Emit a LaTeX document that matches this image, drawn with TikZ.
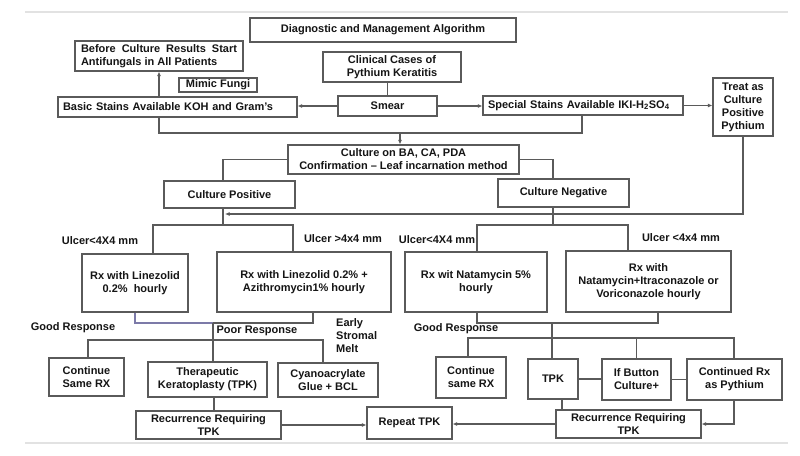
\documentclass[tikz,border=0pt]{standalone}
\usepackage{fontspec}
\setmainfont{Liberation Sans}
\usetikzlibrary{arrows.meta,calc}
\definecolor{linec}{HTML}{5A5A5A}
\definecolor{textc}{HTML}{151515}
\definecolor{rulec}{HTML}{E2E2E2}
\definecolor{bluec}{HTML}{7C7AA8}
\begin{document}
\begin{tikzpicture}[x=1pt,y=-1pt,
 box/.style={draw=linec, line width=1.2pt, text=textc, font=\bfseries\fontsize{11}{13}\selectfont, align=center, inner sep=0pt},
 wh/.style 2 args={minimum width=#1pt, minimum height=#2pt},
 lbl/.style={text=textc, font=\bfseries\fontsize{11}{13}\selectfont, align=center, inner sep=0pt},
 conn/.style={draw=linec, line width=1.2pt},
 arr/.style={conn, -{Latex[length=4.5pt,width=4pt]}},
 rule/.style={draw=rulec, line width=2pt}
]
\useasboundingbox[fill=white] (0,0) rectangle (800,455);
\coordinate (r1a) at (25,12); \coordinate (r1b) at (788,12);
\coordinate (r2a) at (25,443); \coordinate (r2b) at (788,443);
\draw[rule] (r1a) -- (r1b);
\draw[rule] (r2a) -- (r2b);

% boxes
\node[box, wh={266}{24}] (title) at (383,30) {Diagnostic and Management Algorithm};
\node[box, wh={168}{30}] (before) at (159,56) {\makebox[156pt][s]{Before Culture Results Start}\\\makebox[156pt][l]{Antifungals in All Patients}};
\node[box, wh={138}{30}] (clinical) at (392,67) {Clinical Cases of\\Pythium Keratitis};
\node[box, wh={78}{14}] (mimic) at (218,85) {Mimic Fungi};
\node[box, wh={239}{20}, text width=229pt, align=left] (basic) at (177.5,107) {Basic Stains Available KOH and Gram's};
\node[box, wh={99}{20}] (smear) at (387.5,106) {Smear};
\node[box, wh={200}{19}, text width=190pt, align=left] (special) at (583,105.5) {Special Stains Available IKI-H\textsubscript{2}SO\textsubscript{4}};
\node[box, wh={60}{58}] (treat) at (743,107) {Treat as\\Culture\\Positive\\Pythium};
\node[box, wh={231}{29}] (culture) at (403.5,159.5) {Culture on BA, CA, PDA\\Confirmation -- Leaf incarnation method};
\node[box, wh={131}{27}] (cpos) at (229.5,194.5) {Culture Positive};
\node[box, wh={131}{28}] (cneg) at (563.5,193) {Culture Negative};
\node[box, wh={106}{58}] (rxl) at (135,283) {Rx with Linezolid\\0.2\%\ \ hourly};
\node[box, wh={174}{60}] (rxla) at (304,282) {Rx with Linezolid 0.2\% +\\Azithromycin1\% hourly};
\node[box, wh={142}{60}] (rxn) at (476,282) {Rx wit Natamycin 5\%\\hourly};
\node[box, wh={165}{61}] (rxni) at (648.5,281.5) {Rx with\\Natamycin+Itraconazole or\\Voriconazole hourly};
\node[box, wh={75}{38}] (cont1) at (86.5,377) {Continue\\Same RX};
\node[box, wh={119}{35}] (tpk1) at (207.5,379.5) {Therapeutic\\Keratoplasty (TPK)};
\node[box, wh={100}{34}] (cyano) at (328,380) {Cyanoacrylate\\Glue + BCL};
\node[box, wh={145}{28}] (rec1) at (208.5,425) {Recurrence Requiring\\TPK};
\node[box, wh={85}{32}] (repeat) at (409.5,423) {Repeat TPK};
\node[box, wh={70}{41}] (cont2) at (471,377.5) {Continue\\same RX};
\node[box, wh={50}{40}] (tpk2) at (553,379) {TPK};
\node[box, wh={69}{41}] (ifb) at (636.5,379.5) {If Button\\Culture+};
\node[box, wh={95}{41}] (contrx) at (734.5,379.5) {Continued Rx\\as Pythium};
\node[box, wh={145}{28}] (rec2) at (628.5,424) {Recurrence Requiring\\TPK};

% labels
\node[lbl] (u1) at (100,241) {Ulcer<4X4 mm};
\node[lbl] (u2) at (343,239) {Ulcer >4x4 mm};
\node[lbl] (u3) at (437,240) {Ulcer<4X4 mm};
\node[lbl] (u4) at (681,238) {Ulcer <4x4 mm};
\node[lbl] (g1) at (73,328) {Good Response};
\node[lbl] (p1) at (257,331) {Poor Response};
\node[lbl, anchor=west, align=left] (esm) at (336,336) {Early\\Stromal\\Melt};
\node[lbl] (g2) at (456,329) {Good Response};

% top connectors
\draw[conn] (clinical.south -| smear.north) -- (smear.north);
\draw[arr] (smear.west) -- (smear.west -| basic.east);
\draw[arr] (smear.east) -- (smear.east -| special.west);
\draw[arr] (special.east) -- (special.east -| treat.west);
\draw[arr] (before.south |- basic.north) -- (before.south);
\coordinate (j1) at (400,133);
\draw[conn] (before.south |- basic.south) |- (j1);
\draw[conn] ($(special.south)+(-1,0)$) |- (j1);
\draw[arr] (j1) -- (j1 |- culture.north);
\draw[conn] (culture.west) -| ($(cpos.north)+(-6.5,0)$);
\draw[conn] (culture.east) -| ($(cneg.north)+(-10.5,0)$);

% culture positive branch
\coordinate (j2) at (223,225);
\draw[conn] ($(cpos.south)+(-6.5,0)$) -- (j2);
\draw[conn] ($(rxl.north)+(18,0)$) |- (j2) -| ($(rxla.north)+(-11,0)$);
\coordinate (j3) at (225,214);
\draw[arr] (treat.south) |- (j3);

% culture negative branch
\coordinate (j4) at (553,225);
\draw[conn] ($(cneg.south)+(-10.5,0)$) -- (j4);
\draw[conn] ($(rxn.north)+(1,0)$) |- (j4) -| ($(rxni.north)+(-20.5,0)$);

% lower left
\coordinate (j5) at (213,323);
\draw[conn, draw=bluec] (rxl.south) |- (j5);
\draw[conn] (j5) -| ($(rxla.south)+(9,0)$);
\coordinate (j6) at (213,340);
\draw[conn] (j5) -- ($(tpk1.north)+(5.5,0)$);
\draw[conn] ($(cont1.north)+(1.5,0)$) |- (j6) -| ($(cyano.north)+(-5,0)$);
\coordinate (t1s) at ($(tpk1.south)+(6.5,0)$);
\draw[conn] (t1s) -- (t1s |- rec1.north);
\draw[arr] (rec1.east) -- (rec1.east -| repeat.west);

% lower right
\coordinate (j7) at (552,323);
\draw[conn] ($(rxn.south)+(1,0)$) |- (j7) -| ($(rxni.south)+(9.5,0)$);
\draw[conn] (j7) -- ($(tpk2.north)+(-1,0)$);
\coordinate (j8) at (552,338);
\draw[conn] ($(cont2.north)+(-3,0)$) |- (j8) -| ($(contrx.north)+(-0.5,0)$);
\draw[conn] (ifb.north) -- (ifb.north |- j8);
\draw[conn] (tpk2.east) -- (tpk2.east -| ifb.west);
\draw[conn] (ifb.east) -- (ifb.east -| contrx.west);
\coordinate (t2s) at ($(tpk2.south)+(9,0)$);
\draw[conn] (t2s) -- (t2s |- rec2.north);
\coordinate (crs) at ($(contrx.south)+(-0.5,0)$);
\draw[arr] (crs) |- (rec2.east);
\draw[arr] (rec2.west) -- (rec2.west -| repeat.east);
\end{tikzpicture}
\end{document}
